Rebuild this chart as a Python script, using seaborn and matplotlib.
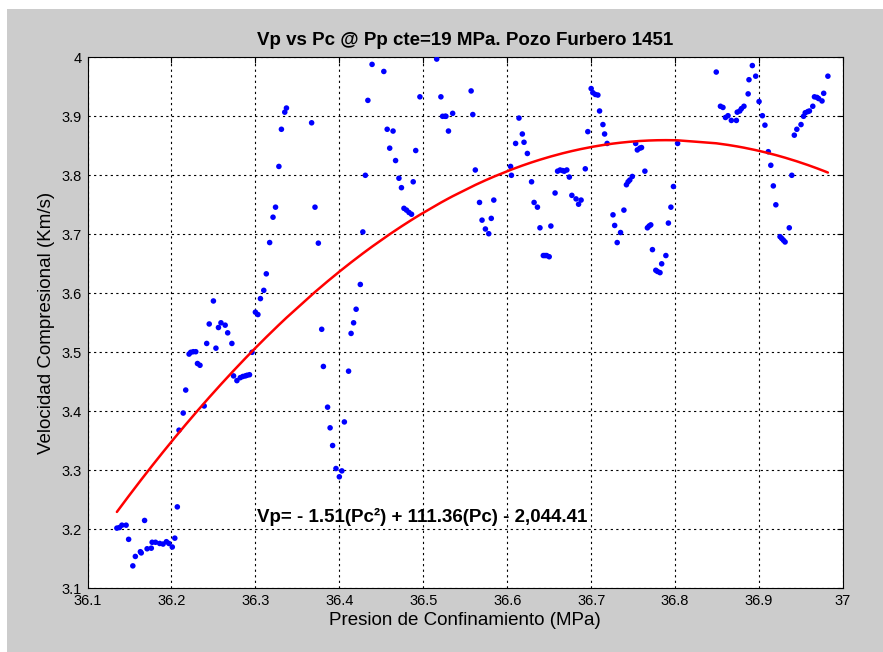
import numpy as np
import pandas as pd
import seaborn as sns
import matplotlib.pyplot as plt
from matplotlib.patches import Rectangle

# presion de confinamiento (MPa) / velocidad compresional (Km/s)
pc = [36.135, 36.138, 36.141, 36.146, 36.149, 36.154, 36.157, 36.163, 36.164, 36.168,
      36.171, 36.176, 36.177, 36.181, 36.186, 36.190, 36.194, 36.197, 36.201, 36.204,
      36.207, 36.209, 36.214, 36.217, 36.221, 36.223, 36.226, 36.229, 36.231, 36.234,
      36.239, 36.242, 36.245, 36.250, 36.253, 36.256, 36.259, 36.264, 36.267, 36.272,
      36.274, 36.278, 36.282, 36.285, 36.288, 36.290, 36.293, 36.296, 36.300, 36.303,
      36.306, 36.310, 36.313, 36.317, 36.321, 36.324, 36.328, 36.331, 36.335, 36.337,
      36.367, 36.371, 36.375, 36.379, 36.381, 36.386, 36.389, 36.392, 36.396, 36.400,
      36.403, 36.406, 36.411, 36.414, 36.417, 36.420, 36.425, 36.428, 36.431, 36.434,
      36.439, 36.453, 36.457, 36.460, 36.464, 36.467, 36.471, 36.474, 36.477, 36.480,
      36.483, 36.486, 36.488, 36.491, 36.496, 36.516, 36.521, 36.523, 36.526, 36.527,
      36.530, 36.535, 36.557, 36.559, 36.562, 36.567, 36.570, 36.574, 36.578, 36.581,
      36.584, 36.604, 36.605, 36.610, 36.614, 36.618, 36.620, 36.624, 36.629, 36.632,
      36.636, 36.639, 36.643, 36.645, 36.647, 36.650, 36.652, 36.657, 36.660, 36.663,
      36.666, 36.668, 36.671, 36.674, 36.677, 36.682, 36.685, 36.688, 36.693, 36.696,
      36.700, 36.702, 36.705, 36.708, 36.710, 36.714, 36.716, 36.719, 36.726, 36.728,
      36.731, 36.735, 36.739, 36.742, 36.744, 36.746, 36.749, 36.753, 36.755, 36.758,
      36.760, 36.764, 36.767, 36.769, 36.771, 36.773, 36.777, 36.779, 36.782, 36.784,
      36.789, 36.792, 36.795, 36.798, 36.803, 36.849, 36.854, 36.857, 36.860, 36.863,
      36.867, 36.873, 36.874, 36.877, 36.879, 36.882, 36.887, 36.888, 36.892, 36.896,
      36.900, 36.904, 36.907, 36.911, 36.914, 36.917, 36.920, 36.925, 36.927, 36.929,
      36.931, 36.936, 36.939, 36.942, 36.945, 36.950, 36.953, 36.955, 36.958, 36.960,
      36.964, 36.966, 36.969, 36.971, 36.975, 36.977, 36.982]
vp = [3.202, 3.203, 3.207, 3.207, 3.183, 3.138, 3.154, 3.162, 3.160, 3.215,
      3.167, 3.168, 3.178, 3.178, 3.176, 3.175, 3.179, 3.176, 3.170, 3.185,
      3.238, 3.368, 3.397, 3.436, 3.497, 3.500, 3.501, 3.501, 3.481, 3.478,
      3.409, 3.515, 3.548, 3.587, 3.507, 3.542, 3.550, 3.546, 3.533, 3.515,
      3.460, 3.452, 3.457, 3.459, 3.460, 3.461, 3.462, 3.500, 3.568, 3.564,
      3.591, 3.605, 3.633, 3.686, 3.729, 3.746, 3.815, 3.878, 3.907, 3.914,
      3.889, 3.746, 3.685, 3.539, 3.476, 3.407, 3.372, 3.342, 3.303, 3.289,
      3.299, 3.382, 3.468, 3.532, 3.550, 3.573, 3.615, 3.704, 3.800, 3.927,
      3.988, 3.976, 3.878, 3.846, 3.875, 3.825, 3.795, 3.779, 3.744, 3.741,
      3.737, 3.734, 3.789, 3.842, 3.933, 3.997, 3.933, 3.900, 3.900, 3.900,
      3.875, 3.905, 3.943, 3.903, 3.809, 3.754, 3.724, 3.709, 3.701, 3.727,
      3.758, 3.815, 3.800, 3.854, 3.897, 3.870, 3.856, 3.837, 3.789, 3.754,
      3.746, 3.711, 3.664, 3.664, 3.664, 3.662, 3.714, 3.770, 3.807, 3.809,
      3.808, 3.807, 3.809, 3.797, 3.766, 3.760, 3.751, 3.758, 3.811, 3.874,
      3.947, 3.940, 3.937, 3.936, 3.909, 3.886, 3.870, 3.854, 3.733, 3.715,
      3.686, 3.703, 3.741, 3.784, 3.789, 3.792, 3.798, 3.854, 3.843, 3.846,
      3.847, 3.807, 3.711, 3.714, 3.716, 3.674, 3.639, 3.637, 3.635, 3.650,
      3.664, 3.719, 3.746, 3.781, 3.854, 3.975, 3.917, 3.915, 3.898, 3.901,
      3.893, 3.893, 3.907, 3.909, 3.913, 3.917, 3.938, 3.962, 3.986, 3.968,
      3.925, 3.901, 3.885, 3.840, 3.817, 3.782, 3.750, 3.696, 3.693, 3.690,
      3.687, 3.711, 3.800, 3.868, 3.878, 3.886, 3.900, 3.906, 3.908, 3.909,
      3.917, 3.933, 3.932, 3.930, 3.926, 3.939, 3.968]

x_ticks = [36.1, 36.2, 36.3, 36.4, 36.5, 36.6, 36.7, 36.8, 36.9, 37.0]
x_ticklabels = ['36.1', '36.2', '36.3', '36.4', '36.5', '36.6', '36.7', '36.8', '36.9', '37']
y_ticks = [3.1, 3.2, 3.3, 3.4, 3.5, 3.6, 3.7, 3.8, 3.9, 4.0]
y_ticklabels = ['3.1', '3.2', '3.3', '3.4', '3.5', '3.6', '3.7', '3.8', '3.9', '4']

df = pd.DataFrame({'Pc': pc, 'Vp': vp})

# ajuste polinomico de segundo grado
coef = np.polyfit(df['Pc'], df['Vp'], 2)
fit = pd.DataFrame({'Pc': df['Pc']})
fit['Vp'] = np.polyval(coef, fit['Pc'])

sns.set_style('white')
plt.rcParams['font.family'] = ['Liberation Sans Narrow', 'Liberation Sans', 'DejaVu Sans']
plt.rcParams['text.color'] = 'black'
plt.rcParams['axes.labelcolor'] = 'black'

fig = plt.figure(figsize=(8.83, 6.52), dpi=100, facecolor='white')
fig.patches.append(Rectangle((7 / 883, 0), 1, 1 - 9 / 652, transform=fig.transFigure,
                             facecolor='#cccccc', edgecolor='none', zorder=-1))
ax = fig.add_axes([87.5 / 883, 1 - 588.3 / 652, (843 - 87.5) / 883, (588.3 - 57.3) / 652])
ax.set_facecolor('white')

sns.scatterplot(data=df, x='Pc', y='Vp', color='blue', s=16, edgecolor='none', ax=ax, zorder=3)
sns.lineplot(data=fit, x='Pc', y='Vp', color='red', linewidth=1.8, ax=ax, zorder=4)

ax.set_xlim(36.1, 37.0)
ax.set_ylim(3.1, 4.0)
ax.set_xticks(x_ticks)
ax.set_xticklabels(x_ticklabels)
ax.set_yticks(y_ticks)
ax.set_yticklabels(y_ticklabels)
ax.tick_params(direction='in', length=4, width=0.8, top=True, right=True,
               labelsize=10.5, colors='black', pad=4)
ax.grid(True, color='black', linestyle=(0, (2, 3)), linewidth=0.8)
for s in ax.spines.values():
    s.set_color('black')
    s.set_linewidth(0.8)

ax.set_title('Vp vs Pc @ Pp cte=19 MPa. Pozo Furbero 1451', fontsize=13.5, fontweight='bold',
             color='black', pad=9)
ax.set_xlabel('Presion de Confinamiento (MPa)', fontsize=13.5, labelpad=3)
ax.set_ylabel('Velocidad Compresional (Km/s)', fontsize=13.5, labelpad=5)
ax.text(36.302, 3.221, 'Vp= - 1.51(Pc²) + 111.36(Pc) - 2,044.41', fontsize=13.5,
        fontweight='bold', color='black', ha='left', va='center', zorder=5)

fig.savefig('out.png', dpi=100, facecolor=fig.get_facecolor())
